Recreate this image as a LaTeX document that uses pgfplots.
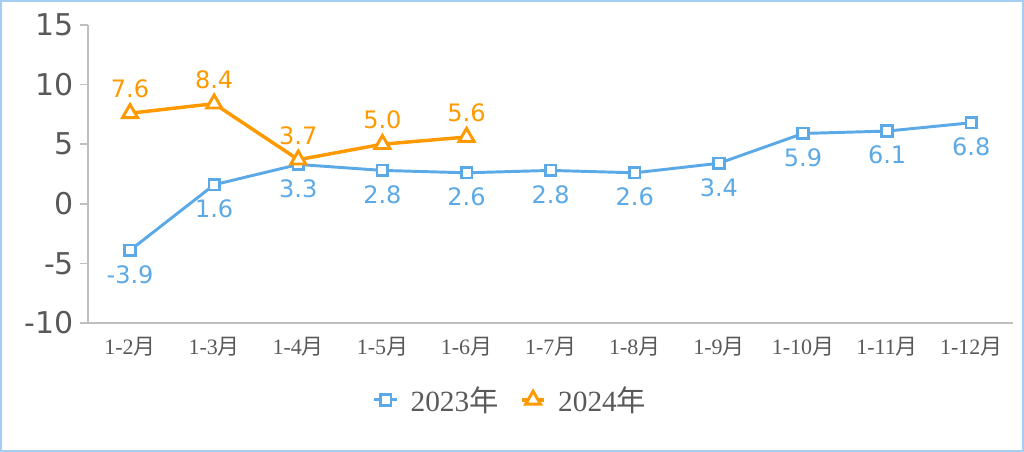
\documentclass[border=0pt]{standalone}
\usepackage{fontspec}
\usepackage{pgfplots}
\pgfplotsset{compat=1.18}
\setmainfont{Liberation Serif}
\newfontfamily\cjk{Noto Sans CJK SC}
\newfontfamily\dv{DejaVu Sans}
\definecolor{c23}{RGB}{91,169,230}
\definecolor{c24}{RGB}{255,153,0}
\definecolor{framec}{RGB}{165,205,242}
\definecolor{axgray}{RGB}{191,191,191}
\definecolor{txt}{RGB}{89,89,89}

\begin{document}
\begin{tikzpicture}
% 1 px of the reference = 0.75pt
\useasboundingbox (0,0) rectangle (768pt,339pt);
\draw[framec, line width=1.2pt] (0.75pt,0.75pt) rectangle (767.25pt,338.25pt);
\begin{axis}[
    at={(66pt,96.75pt)}, anchor=south west,
    scale only axis, width=694pt, height=223.5pt,
    xmin=-0.5, xmax=10.5, ymin=-10, ymax=15,
    xtick={0,...,10},
    xticklabels={1-2{\cjk 月},1-3{\cjk 月},1-4{\cjk 月},1-5{\cjk 月},1-6{\cjk 月},1-7{\cjk 月},1-8{\cjk 月},1-9{\cjk 月},1-10{\cjk 月},1-11{\cjk 月},1-12{\cjk 月}},
    ytick={-10,-5,0,5,10,15},
    axis x line*=bottom, axis y line*=left,
    axis line style={-, axgray, line width=1.2pt},
    xtick style={draw=none},
    ytick style={axgray, line width=1.2pt},
    tick align=outside, major tick length=6pt,
    /pgf/number format/assume math mode=true,
    yticklabel style={font=\dv\fontsize{22.5}{22.5}\selectfont, text=txt, xshift=-1pt},
    xticklabel style={font=\fontsize{16.5}{16.5}\selectfont, text=txt, yshift=-1pt},
    clip=false,
    legend style={at={(0.457,-0.258)}, anchor=center, draw=none, fill=none,
        legend columns=-1, font=\fontsize{22}{22}\selectfont, text=txt,
        /tikz/every odd column/.append style={column sep=7pt},
        /tikz/every even column/.append style={column sep=14pt}},
    legend cell align=left,
    nodes near coords={\pgfmathprintnumber[fixed,fixed zerofill,precision=1]{\pgfplotspointmeta}},
]
\addplot[c23, line width=2.2pt, mark=square*, mark size=4pt,
    mark options={fill=white, line width=2pt},
    nodes near coords style={font=\dv\fontsize{18}{18}\selectfont, text=c23, anchor=center, yshift=-18pt}]
    coordinates {(0,-3.9) (1,1.6) (2,3.3) (3,2.8) (4,2.6) (5,2.8) (6,2.6) (7,3.4) (8,5.9) (9,6.1) (10,6.8)};
\addlegendentry{2023{\cjk 年}}
\addplot[c24, line width=2.6pt, mark=triangle*, mark size=6.5pt,
    mark options={fill=white, line width=2.2pt},
    nodes near coords style={font=\dv\fontsize{18}{18}\selectfont, text=c24, anchor=center, yshift=18pt}]
    coordinates {(0,7.6) (1,8.4) (2,3.7) (3,5.0) (4,5.6)};
\addlegendentry{2024{\cjk 年}}
\end{axis}
\end{tikzpicture}
\end{document}
